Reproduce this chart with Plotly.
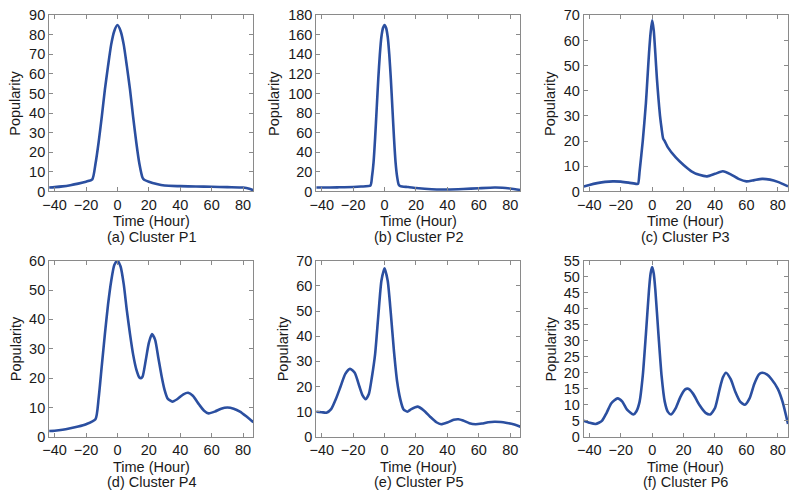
import plotly.graph_objects as go

W, H = 791, 501

# ---------------- data ----------------
t_a = [-43.5, -40, -35, -30, -25, -20, -16, -14, -12, -10, -8, -6, -4, -2, 0,
       2, 4, 6, 8, 10, 12, 14, 16, 17, 20, 25, 30, 40, 50, 60, 70, 80, 84, 86.5]
p_a = [2, 2.2, 2.6, 3.2, 4, 5, 6.2, 14, 25, 38, 52, 64, 75, 82, 85,
       82, 75, 64, 52, 38, 25, 14, 7, 6, 5, 3.8, 3, 2.7, 2.5, 2.4, 2.2, 2, 1.4, 0.6]

t_b = [-43.5, -40, -30, -20, -15, -9, -8, -7, -6, -5, -4, -3, -2, -1, 0,
       1, 2, 3, 4, 5, 6, 7, 8, 9, 10, 15, 20, 30, 40, 50, 60, 70, 75, 80, 86.5]
p_b = [4, 4, 4.2, 4.5, 5, 6, 15, 30, 55, 85, 115, 140, 158, 167, 170,
       167, 158, 140, 115, 85, 55, 30, 15, 7, 5.5, 4.5, 3.5, 2.2, 2, 2.5, 3.3, 4, 3.8, 3, 1.5]

t_c = [-43.5, -40, -35, -30, -25, -20, -15, -10, -9, -8, -6, -4, -3, -2, -1, 0,
       1, 2, 3, 4, 5, 6, 7, 8, 10, 15, 20, 25, 30, 35, 40, 45, 50, 55, 60, 65, 70, 75, 80, 86.5]
p_c = [2, 2.6, 3.3, 3.8, 4, 3.9, 3.5, 3, 3, 8, 20, 35, 45, 55, 63, 68,
       64, 55, 45, 37, 30, 25, 21, 20, 17.5, 13.5, 10.5, 8, 6.6, 6, 7, 8, 6.8, 5, 4, 4.5, 5, 4.7, 3.8, 2]

t_d = [-43.5, -40, -35, -30, -25, -20, -14, -12, -10, -8, -6, -4, -2, 0,
       2, 4, 6, 8, 10, 12, 14, 15, 16, 18, 20, 22, 24, 26, 28, 30, 32, 35, 38,
       42, 45, 48, 52, 55, 58, 62, 66, 70, 74, 78, 82, 86.5]
p_d = [2, 2.1, 2.4, 2.9, 3.5, 4.3, 6, 13, 24, 35, 45, 53, 58.5, 60,
       58, 52, 43, 35, 28, 23, 20.2, 20, 20.5, 26, 32, 35, 33, 27, 21, 16, 13, 12, 12.8,
       14.5, 15, 14, 11, 9, 8, 8.6, 9.6, 10, 9.6, 8.6, 7, 5]

t_e = [-43.5, -40, -37, -34, -31, -28, -25, -22, -19, -16, -14, -12, -10, -8, -6, -4, -2, 0,
       2, 4, 6, 8, 10, 12, 14.5, 17, 21, 25, 29, 33, 36, 40, 44, 47, 50, 54, 58,
       62, 66, 70, 74, 78, 82, 86.5]
p_e = [10, 9.8, 9.6, 11, 15, 20, 25, 27, 25.5, 20, 16.5, 15, 17, 24, 33, 48, 62, 67,
       62, 49, 34, 22, 15, 11, 10, 11, 12, 10.5, 8, 5.8, 5, 5.7, 6.8, 7, 6.5, 5.4, 5,
       5.3, 5.8, 6, 5.9, 5.5, 5, 4]

t_f = [-43.5, -40, -36, -32, -29, -26, -22, -19, -16, -12, -10, -8, -6, -4, -2, -1, 0,
       1, 2, 4, 6, 8, 10, 12, 15, 18, 21, 23, 26, 30, 34, 37, 40, 43, 45, 47, 50, 53,
       56, 59, 62, 65, 68, 70, 73, 76, 80, 83, 86.5]
p_f = [5, 4.4, 4, 5, 7.5, 10.5, 12, 11, 8.5, 7, 8, 11, 19, 32, 46, 51, 53,
       51, 46, 32, 19, 11, 7.8, 7, 9, 12.5, 14.8, 15, 13.5, 10, 7.5, 7, 9, 15, 18.5, 20, 18, 14,
       11, 10, 12, 16.5, 19.5, 20, 19.5, 18, 15, 11, 4]

x_ticks = [-40, -20, 0, 20, 40, 60, 80]
x_range = [-43.5, 86.5]

series = [(t_a, p_a), (t_b, p_b), (t_c, p_c), (t_d, p_d), (t_e, p_e), (t_f, p_f)]
y_max = [90, 180, 70, 60, 70, 55]
y_step = [10, 20, 10, 10, 10, 5]
captions = ["(a) Cluster P1", "(b) Cluster P2", "(c) Cluster P3",
            "(d) Cluster P4", "(e) Cluster P5", "(f) Cluster P6"]

# ---------------- layout (pixel boxes) ----------------
cols = [(42.5, 248.5), (312, 518), (582, 788)]
rows = [(7.5, 189.5), (261, 443)]
ylab_x = [[8.5, 270, 548.5], [8.5, 278, 548.5]]

LINE = "#2B4FA0"
AX = "#8a8a8a"
FONT = "Liberation Sans, Arial, Helvetica, sans-serif"
FS_TICK = 14.5
FS = 14.5
TXT = "#1a1a1a"

fig = go.Figure()
annotations = []
for i, ((t, p), ymax, ystep, cap) in enumerate(zip(series, y_max, y_step, captions)):
    r, c = divmod(i, 3)
    x0, x1 = cols[c]
    y0, y1 = rows[r]
    k = "" if i == 0 else str(i + 1)
    fig.add_trace(go.Scatter(x=t, y=p, mode="lines", xaxis="x" + k, yaxis="y" + k,
                             line=dict(color=LINE, width=2.6, shape="spline", smoothing=0.6),
                             showlegend=False, hoverinfo="skip"))
    common = dict(showline=True, linecolor=AX, linewidth=1, mirror="ticks",
                  ticks="inside", ticklen=4, tickcolor=AX, tickwidth=1,
                  showgrid=False, zeroline=False,
                  tickfont=dict(family=FONT, size=FS_TICK, color=TXT))
    fig.update_layout(**{
        "xaxis" + k: dict(domain=[x0 / W, x1 / W], anchor="y" + k, range=x_range,
                          tickvals=x_ticks, **common),
        "yaxis" + k: dict(domain=[1 - y1 / H, 1 - y0 / H], anchor="x" + k,
                          range=[0, ymax], dtick=ystep, tick0=0, **common),
    })
    xc = (x0 + x1) / 2 / W
    annotations.append(dict(text="Time (Hour)", x=xc, y=1 - (y1 + 31) / H,
                            xref="paper", yref="paper", showarrow=False,
                            xanchor="center", yanchor="middle",
                            font=dict(family=FONT, size=FS, color=TXT)))
    annotations.append(dict(text=cap, x=xc, y=1 - (y1 + 47) / H,
                            xref="paper", yref="paper", showarrow=False,
                            xanchor="center", yanchor="middle",
                            font=dict(family=FONT, size=FS, color=TXT)))
    annotations.append(dict(text="Popularity", x=ylab_x[r][c] / W, y=1 - (y0 + y1) / 2 / H,
                            xref="paper", yref="paper", showarrow=False, textangle=-90,
                            xanchor="center", yanchor="middle",
                            font=dict(family=FONT, size=FS, color=TXT)))

fig.update_layout(width=W, height=H, margin=dict(l=0, r=0, t=0, b=0),
                  paper_bgcolor="white", plot_bgcolor="white",
                  annotations=annotations)

fig.write_html("out.html", config={"displayModeBar": False},
               post_script="document.body.style.margin='0';document.body.style.overflow='hidden';")
